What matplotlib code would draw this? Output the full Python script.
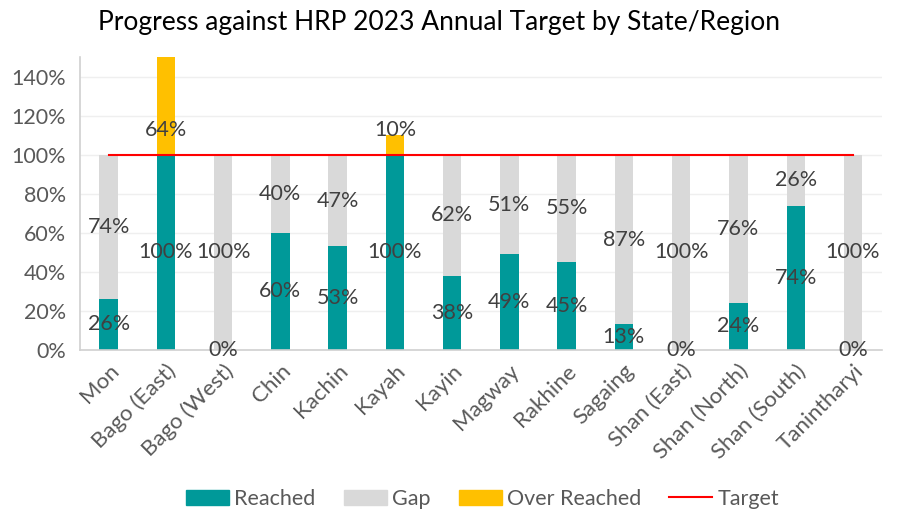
import matplotlib
matplotlib.use("Agg")
import matplotlib.pyplot as plt
import numpy as np
from matplotlib.patches import Patch
from matplotlib.lines import Line2D

categories = ["Mon", "Bago (East)", "Bago (West)", "Chin", "Kachin", "Kayah", "Kayin",
              "Magway", "Rakhine", "Sagaing", "Shan (East)", "Shan (North)", "Shan (South)", "Tanintharyi"]
reached = [26, 100, 0, 60, 53, 100, 38, 49, 45, 13, 0, 24, 74, 0]
gap = [74, 0, 100, 40, 47, 0, 62, 51, 55, 87, 100, 76, 26, 100]
over = [0, 64, 0, 0, 0, 10, 0, 0, 0, 0, 0, 0, 0, 0]
target = [100] * len(categories)
yticks = [0, 20, 40, 60, 80, 100, 120, 140]

plt.rcParams['font.family'] = ['Lato', 'DejaVu Sans']
TEAL = "#009999"
GRAY = "#D9D9D9"
GOLD = "#FFC000"
LBL = "#404040"
TICK = "#595959"
FS = 15.5

fig = plt.figure(figsize=(9.14, 5.26), dpi=100)
ax = fig.add_axes([0.0875, 0.335, 0.877, 0.556])

x = np.arange(len(categories))
w = 0.32
ax.bar(x, reached, w, color=TEAL, zorder=2)
ax.bar(x, gap, w, bottom=reached, color=GRAY, zorder=2)
bottom_over = [r + g for r, g in zip(reached, gap)]
ax.bar(x, over, w, bottom=bottom_over, color=GOLD, zorder=2)
ax.plot(x, target, color="#FF0000", lw=1.5, zorder=3)

ymax = 150
for i in range(len(categories)):
    ax.text(x[i], reached[i] / 2, f"{reached[i]}%", ha="center", va="center",
            fontsize=FS, color=LBL, zorder=4)
    if gap[i] > 0:
        ax.text(x[i], reached[i] + gap[i] / 2, f"{gap[i]}%", ha="center", va="center",
                fontsize=FS, color=LBL, zorder=4)
    if over[i] > 0:
        ax.text(x[i], bottom_over[i] + 12.5, f"{over[i]}%", ha="center", va="center",
                fontsize=FS, color=LBL, zorder=4)

ax.set_ylim(0, ymax)
ax.set_xlim(-0.5, len(categories) - 0.5)
ax.set_yticks(yticks)
ax.set_yticklabels([f"{t}%" for t in yticks], fontsize=FS, color=TICK)
ax.set_xticks(x)
ax.set_xticklabels(categories, rotation=45, ha="right", rotation_mode="anchor",
                   fontsize=16, color=TICK)
ax.tick_params(axis="x", length=0, pad=8)
ax.tick_params(axis="y", length=0, pad=10)
ax.grid(axis="y", color="#EFEFEF", lw=1, zorder=0)
ax.set_axisbelow(True)
for s in ["top", "right"]:
    ax.spines[s].set_visible(False)
ax.spines["left"].set_color("#D0D0D0")
ax.spines["bottom"].set_color("#D0D0D0")
ax.spines["left"].set_linewidth(1.2)
ax.spines["bottom"].set_linewidth(1.2)

fig.text(0.48, 0.958, "Progress against HRP 2023 Annual Target by State/Region",
         ha="center", va="center", fontsize=19, color="black")

handles = [Patch(color=TEAL, label="Reached"), Patch(color=GRAY, label="Gap"),
           Patch(color=GOLD, label="Over Reached"),
           Line2D([0], [0], color="#FF0000", lw=1.5, label="Target")]
leg = fig.legend(handles=handles, loc="center", bbox_to_anchor=(0.528, 0.052), ncol=4,
                 frameon=False, fontsize=FS, handlelength=2.0, handleheight=0.7,
                 columnspacing=1.3, handletextpad=0.25)
for t in leg.get_texts():
    t.set_color(TICK)

fig.savefig("out.png", dpi=100)
